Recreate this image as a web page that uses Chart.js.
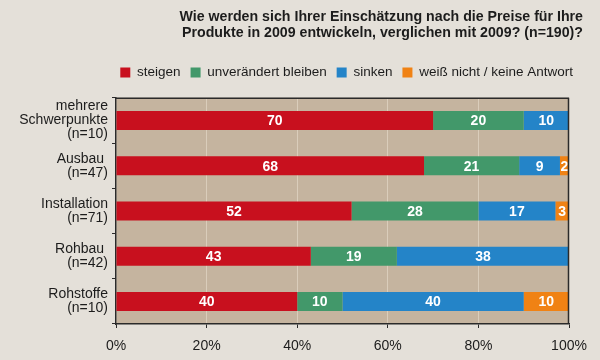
<!DOCTYPE html>
<html><head><meta charset="utf-8">
<script src="https://cdn.jsdelivr.net/npm/chart.js@4"></script>
<style>html,body{margin:0;padding:0;background:#e4e0d9;} #wrap{width:600px;height:360px;position:relative;}</style>
</head><body><div id="wrap"><canvas id="c" width="600" height="360"></canvas></div>
<script>
// ---- data ----
const categories = [['mehrere','Schwerpunkte','(n=10)'],['Ausbau ','(n=47)'],['Installation','(n=71)'],['Rohbau ','(n=42)'],['Rohstoffe','(n=10)']];
const seriesNames = ['steigen','unverändert bleiben','sinken','weiß nicht / keine Antwort'];
const steigen = [70,68,52,43,40];
const unveraendert = [20,21,28,19,10];
const sinken = [10,9,17,38,40];
const weissNicht = [0,2,3,0,10];
const xTicks = [0,20,40,60,80,100];
const titleLines = ['Wie werden sich Ihrer Einschätzung nach die Preise für Ihre','Produkte in 2009 entwickeln, verglichen mit 2009? (n=190)?'];

const colors = ['#c8101e','#42986a','#2484c8','#f08214'];
const FONT = "'Liberation Sans', Arial, sans-serif";
const INK = '#1c1c1c';

const plotPlugin = {
  id: 'plotDeco',
  afterInit(chart) {
    const lg = chart.legend;
    if (lg && !lg._patched) {
      const f = lg.fit;
      lg.fit = function () { f.call(this); if (this.options.display) this.height += 8.5; };
      lg._patched = true;
    }
  },
  beforeDraw(chart) {
    const {ctx, chartArea: a} = chart;
    ctx.save();
    ctx.fillStyle = '#e4e0d9';
    ctx.fillRect(0, 0, chart.width, chart.height);
    ctx.fillStyle = '#c5b49f';
    ctx.fillRect(a.left, a.top, a.right - a.left, a.bottom - a.top);
    ctx.restore();
  },
  afterDatasetsDraw(chart) {
    const {ctx, chartArea: a} = chart;
    ctx.save();
    ctx.font = "bold 14px " + FONT;
    ctx.fillStyle = '#ffffff';
    ctx.textAlign = 'center';
    ctx.textBaseline = 'middle';
    chart.data.datasets.forEach((ds, i) => {
      const meta = chart.getDatasetMeta(i);
      meta.data.forEach((el, j) => {
        const v = ds.data[j];
        if (!v) return;
        const p = el.getProps(['x', 'base', 'y'], true);
        ctx.fillText(String(v), (p.x + p.base) / 2, p.y + 1);
      });
    });
    ctx.strokeStyle = '#2a2a2a';
    ctx.lineWidth = 1.5;
    ctx.beginPath();
    ctx.moveTo(a.left, a.top + 0.5);
    ctx.lineTo(a.right, a.top + 0.5);
    ctx.moveTo(a.right - 0.5, a.top);
    ctx.lineTo(a.right - 0.5, a.bottom);
    ctx.stroke();
    ctx.restore();
  }
};

const seriesData = [steigen, unveraendert, sinken, weissNicht];

new Chart(document.getElementById('c'), {
  type: 'bar',
  data: {
    labels: categories,
    datasets: seriesNames.map((n, i) => ({
      label: n,
      data: seriesData[i],
      backgroundColor: colors[i],
      borderWidth: 0,
      categoryPercentage: 1,
      barPercentage: 0.42
    }))
  },
  options: {
    indexAxis: 'y',
    responsive: false,
    animation: false,
    layout: {padding: {left: 0, right: 17, top: 0, bottom: 0}},
    plugins: {
      tooltip: {enabled: false},
      title: {
        display: true,
        text: titleLines,
        align: 'end',
        color: INK,
        font: {family: FONT, size: 14.2, weight: 'bold', lineHeight: 1.13},
        padding: {top: 8.7, bottom: 15}
      },
      legend: {
        display: true,
        position: 'top',
        align: 'end',
        labels: {
          boxWidth: 10, boxHeight: 10, padding: 10, color: INK,
          font: {family: FONT, size: 13.5}
        }
      }
    },
    scales: {
      x: {
        stacked: true,
        min: 0, max: 100,
        afterBuildTicks(s) { s.ticks = xTicks.map(v => ({value: v})); },
        afterFit(s) { s.height = 36; s.paddingRight = 31; },
        grid: {color: 'rgba(235,225,210,0.55)', tickColor: '#2a2a2a', tickLength: 4, lineWidth: 1},
        border: {color: '#2a2a2a', width: 1.5},
        ticks: {color: INK, font: {family: FONT, size: 14}, padding: 10, callback: v => v + '%', maxRotation: 0}
      },
      y: {
        stacked: true,
        afterFit(s) { s.width = 116; },
        grid: {drawOnChartArea: false, offset: true, tickColor: '#2a2a2a', tickLength: 4},
        border: {color: '#2a2a2a', width: 1.5},
        ticks: {color: INK, font: {family: FONT, size: 14, lineHeight: 1.0}, padding: 4}
      }
    }
  },
  plugins: [plotPlugin]
});
</script>
</body></html>
